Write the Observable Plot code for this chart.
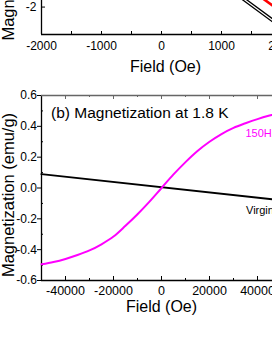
<!DOCTYPE html>
<html><head><meta charset="utf-8">
<script src="https://cdn.jsdelivr.net/npm/d3@7"></script>
<script src="https://cdn.jsdelivr.net/npm/@observablehq/plot@0.6"></script>
<style>
html,body{margin:0;padding:0;background:#fff;}
#wrap{position:relative;width:272px;height:352px;overflow:hidden;background:#fff;}
#a,#b{position:absolute;left:0;width:300px;}
#a{top:-168px;height:274px;}
#b{top:0;height:352px;}
#a svg,#b svg{max-width:none !important;width:300px;display:block;}
</style></head><body><div id="wrap"><div id="b"></div><div id="a"></div></div>
<script>
// ---------- Panel (a): low-field loops (mostly cropped) ----------
const fieldA = [-2000, 2000];
const blackUpA = [2.625, -2.535];
const blackDownA = [2.535, -2.625];
const redA = [2.86, -2.14];
const xDomainA = [-2000, 2000];
const yDomainA = [-2.8, 2.8];
const xTicksA = [-2000, -1000, 0, 1000, 2000];
const xMinorA = [-1500, -500, 500, 1500];
const yTicksA = [-2, 0, 2];

// ---------- Panel (b): magnetization at 1.8 K ----------
const fieldB = [-50000,-45000,-40000,-35000,-30000,-25000,-20000,-15000,-10000,-5000,0,
                5000,10000,15000,20000,25000,30000,35000,40000,45000,50000];
const m150 = [-0.495,-0.48,-0.46,-0.435,-0.405,-0.365,-0.315,-0.245,-0.17,-0.088,0,
              0.088,0.168,0.24,0.30,0.35,0.39,0.42,0.447,0.47,0.49];
const virginField = [-50000, 50000];
const virginM = [0.09, -0.08];
const xDomainB = [-50000, 50000];
const yDomainB = [-0.6, 0.6];
const xTicksB = [-40000, -20000, 0, 20000, 40000];
const xMinorB = [-50000, -30000, -10000, 10000, 30000, 50000];
const yTicksB = [-0.6, -0.4, -0.2, 0, 0.2, 0.4, 0.6];
const yMinorB = [-0.5, -0.3, -0.1, 0.1, 0.3, 0.5];

const titleB = "(b) Magnetization at 1.8 K";
const xLabel = "Field (Oe)";
const yLabel = "Magnetization (emu/g)";
const label150 = "150Hz";
const labelVirgin = "Virgin";

const FONT = "Arial, 'Liberation Sans', Helvetica, sans-serif";
const W = 300, ML = 41, MR = 19;
const PW = W - ML - MR;

// Panel (a)
{
  const H = 274, MT = 10, MB = 72, PH = H - MT - MB;
  const rows = (vals) => fieldA.map((f, i) => ({f, m: vals[i]}));
  const p = Plot.plot({
    width: W, height: H, marginLeft: ML, marginRight: MR, marginTop: MT, marginBottom: MB,
    style: {fontFamily: FONT, fontSize: "12px", color: "black", background: "transparent", maxWidth: "none"},
    x: {domain: xDomainA},
    y: {domain: yDomainA},
    marks: [
      Plot.ruleX(xTicksA.concat(xMinorA), {insetTop: PH - 3, stroke: "black"}),
      Plot.ruleY(yTicksA, {insetRight: PW - 4, stroke: "black"}),
      Plot.axisY({ticks: yTicksA, tickSize: 0, tickPadding: 5, tickFormat: d => String(d), label: null, fontSize: 12}),
      Plot.axisX({ticks: xTicksA, tickSize: 0, tickPadding: 7, tickFormat: d => String(d), label: null, fontSize: 12}),
      Plot.ruleX([xDomainA[0]], {stroke: "black", strokeWidth: 1.3}),
      Plot.ruleY([yDomainA[0]], {stroke: "black", strokeWidth: 1.3}),
      Plot.line(rows(blackUpA), {x: "f", y: "m", stroke: "black", strokeWidth: 1.3}),
      Plot.line(rows(blackDownA), {x: "f", y: "m", stroke: "black", strokeWidth: 1.3}),
      Plot.line(rows(redA), {x: "f", y: "m", stroke: "#ff0000", strokeWidth: 2.6}),
      Plot.text([xLabel], {text: d => d, frameAnchor: "bottom", textAnchor: "middle", lineAnchor: "middle", dy: 32, dx: 4, fontSize: 16}),
      Plot.text([yLabel], {text: d => d, frameAnchor: "left", textAnchor: "middle", lineAnchor: "middle", rotate: -90, dx: -32.5, dy: 20, fontSize: 16.5})
    ]
  });
  document.getElementById("a").appendChild(p);
}

// Panel (b)
{
  const H = 352, MT = 95, MB = 72, PH = H - MT - MB;
  const pts = fieldB.map((f, i) => ({f, m: m150[i]}));
  const vir = virginField.map((f, i) => ({f, m: virginM[i]}));
  const p = Plot.plot({
    width: W, height: H, marginLeft: ML, marginRight: MR, marginTop: MT, marginBottom: MB,
    style: {fontFamily: FONT, fontSize: "12px", color: "black", background: "transparent", maxWidth: "none"},
    x: {domain: xDomainB},
    y: {domain: yDomainB},
    marks: [
      Plot.ruleX(xTicksB, {insetTop: PH - 4, stroke: "black"}),
      Plot.ruleX(xMinorB, {insetTop: PH - 2, stroke: "black"}),
      Plot.ruleX(xTicksB, {insetBottom: PH - 4, stroke: "#666"}),
      Plot.ruleX(xMinorB, {insetBottom: PH - 2, stroke: "#666"}),
      Plot.ruleY(yMinorB, {insetRight: PW - 2, stroke: "black"}),
      Plot.axisY({ticks: yTicksB, tickSize: 4, tickPadding: 0.5, tickFormat: d => d.toFixed(1), label: null, fontSize: 12}),
      Plot.axisX({ticks: xTicksB, tickSize: 0, tickPadding: 6, tickFormat: d => String(d), label: null, fontSize: 12.5}),
      Plot.ruleX([xDomainB[0]], {stroke: "black", strokeWidth: 1.3}),
      Plot.ruleX([xDomainB[1]], {stroke: "black", strokeWidth: 1.3}),
      Plot.ruleY([yDomainB[0]], {stroke: "black", strokeWidth: 1.3}),
      Plot.ruleY([yDomainB[1]], {stroke: "#666", strokeWidth: 1.3}),
      Plot.line(vir, {x: "f", y: "m", stroke: "black", strokeWidth: 2}),
      Plot.line(pts, {x: "f", y: "m", stroke: "#ff00ff", strokeWidth: 2, curve: "catmull-rom"}),
      Plot.text([titleB], {text: d => d, frameAnchor: "top-left", textAnchor: "start", lineAnchor: "middle", dx: 9.5, dy: 17.5, fontSize: 15.5}),
      Plot.text([label150], {text: d => d, frameAnchor: "top-right", textAnchor: "start", lineAnchor: "middle", dx: -36, dy: 37.5, fontSize: 11, fill: "#ff00ff"}),
      Plot.text([labelVirgin], {text: d => d, frameAnchor: "top-right", textAnchor: "start", lineAnchor: "middle", dx: -35.5, dy: 114.5, fontSize: 11, fill: "black"}),
      Plot.text([xLabel], {text: d => d, frameAnchor: "bottom", textAnchor: "middle", lineAnchor: "middle", dy: 26.5, fontSize: 16}),
      Plot.text([yLabel], {text: d => d, frameAnchor: "left", textAnchor: "middle", lineAnchor: "middle", rotate: -90, dx: -32.5, dy: 7, fontSize: 16.5})
    ]
  });
  document.getElementById("b").appendChild(p);
}
</script></body></html>
